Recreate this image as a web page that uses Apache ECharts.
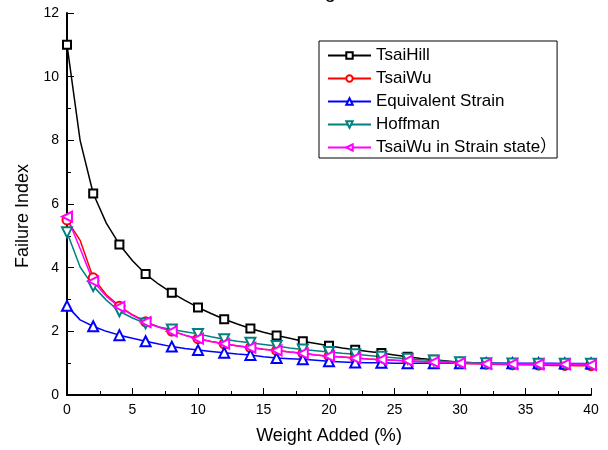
<!DOCTYPE html>
<html>
<head>
<meta charset="utf-8">
<script src="https://cdn.jsdelivr.net/npm/echarts@6/dist/echarts.min.js"></script>
<style>
  html, body { margin: 0; padding: 0; background: #fff; }
  #chart { width: 608px; height: 450px; }
</style>
</head>
<body>
<div id="chart"></div>
<script>
// Weight added (%), one sample per percent
const weightAdded = [0,1,2,3,4,5,6,7,8,9,10,11,12,13,14,15,16,17,18,19,20,
                     21,22,23,24,25,26,27,28,29,30,31,32,33,34,35,36,37,38,39,40];

const tsaiHill = [11.0,8.0,6.33,5.4,4.73,4.22,3.80,3.48,3.21,2.97,2.75,2.56,2.38,2.23,2.09,1.97,1.87,1.78,1.69,1.62,1.55,
                  1.48,1.42,1.37,1.32,1.26,1.20,1.15,1.11,1.07,1.03,1.01,1.00,0.99,0.98,0.98,0.97,0.97,0.96,0.96,0.96];
const tsaiWu = [5.5,4.86,3.68,3.15,2.79,2.52,2.30,2.14,2.01,1.88,1.77,1.68,1.61,1.54,1.49,1.44,1.40,1.35,1.31,1.26,1.22,
                1.19,1.16,1.13,1.11,1.09,1.07,1.05,1.03,1.01,0.99,0.98,0.97,0.96,0.95,0.95,0.94,0.93,0.93,0.92,0.92];
const equivalentStrain = [2.8,2.36,2.16,2.0,1.88,1.78,1.69,1.60,1.52,1.46,1.41,1.37,1.33,1.29,1.26,1.20,1.16,1.14,1.12,1.09,1.06,
                          1.04,1.02,1.01,1.01,1.0,1.0,1.0,1.0,1.0,1.0,1.0,1.0,1.0,1.0,1.0,1.0,1.0,0.99,0.99,0.99];
const hoffman = [5.11,4.02,3.42,2.98,2.63,2.42,2.25,2.14,2.06,1.99,1.92,1.83,1.75,1.69,1.64,1.59,1.54,1.48,1.43,1.39,1.35,
                 1.31,1.28,1.24,1.20,1.17,1.14,1.11,1.08,1.05,1.03,1.01,1.00,0.99,0.99,0.98,0.98,0.98,0.98,0.98,0.98];
const tsaiWuStrain = [5.6,4.6,3.57,3.1,2.77,2.5,2.29,2.13,2.0,1.88,1.77,1.68,1.61,1.55,1.49,1.44,1.40,1.35,1.31,1.26,1.22,
                      1.19,1.16,1.13,1.11,1.09,1.08,1.05,1.03,1.01,1.0,0.99,0.98,0.97,0.97,0.96,0.96,0.96,0.96,0.95,0.94];

const FONT = "'Liberation Sans', Arial, 'Noto Sans CJK SC', sans-serif";

function pairs(ys) {
  return weightAdded.map((x, i) => [x, ys[i]]);
}

// markers only on every second percent
function markerSize(size) {
  return function (val) { return val[0] % 2 === 0 ? size : 0; };
}

function makeSeries(name, ys, color, symbol, size, rotate) {
  return {
    name: name,
    type: 'line',
    data: pairs(ys),
    symbol: symbol,
    symbolSize: markerSize(size),
    symbolRotate: rotate || 0,
    showAllSymbol: true,
    lineStyle: { color: color, width: 1.5 },
    itemStyle: { color: color, borderColor: color, borderWidth: 1.5 },
    emphasis: { disabled: true },
    z: 2
  };
}

const chart = echarts.init(document.getElementById('chart'), null, { renderer: 'canvas' });

chart.setOption({
  animation: false,
  backgroundColor: '#fff',
  title: {
    text: 'Failure Index vs Weight Added',
    left: 144,
    top: -18,
    padding: 0,
    textStyle: { fontFamily: FONT, fontSize: 20, fontWeight: 'normal', color: '#000', lineHeight: 20 }
  },
  grid: { left: 67, right: 17, top: 13, bottom: 54 },
  legend: {
    orient: 'vertical',
    left: 319,
    top: 41,
    padding: [6, 0, 2, 8],
    itemWidth: 43,
    itemHeight: 8,
    itemGap: 6,
    borderColor: '#000',
    borderWidth: 1,
    backgroundColor: '#fff',
    textStyle: { fontFamily: FONT, fontSize: 17, color: '#000', lineHeight: 17 },
    data: ['TsaiHill', 'TsaiWu', 'Equivalent Strain', 'Hoffman', 'TsaiWu in Strain state）']
  },
  xAxis: {
    type: 'value',
    min: 0, max: 40, interval: 5,
    name: 'Weight Added (%)',
    nameLocation: 'middle',
    nameGap: 32,
    nameTextStyle: { fontFamily: FONT, fontSize: 18, color: '#000' },
    axisLine: { show: true, onZero: false, lineStyle: { color: '#000', width: 2 } },
    axisTick: { show: true, inside: true, length: 7, lineStyle: { color: '#000', width: 1 } },
    minorTick: { show: true, splitNumber: 2, length: 4, lineStyle: { color: '#000', width: 1 } },
    axisLabel: { fontFamily: FONT, fontSize: 14, color: '#000', margin: 8 },
    splitLine: { show: false }
  },
  yAxis: {
    type: 'value',
    min: 0, max: 12, interval: 2,
    name: 'Failure Index',
    nameLocation: 'middle',
    nameGap: 32,
    nameRotate: 90,
    nameTextStyle: { fontFamily: FONT, fontSize: 18, color: '#000', padding: [0, 24, 0, 0] },
    axisLine: { show: true, onZero: false, lineStyle: { color: '#000', width: 2 } },
    axisTick: { show: true, inside: true, length: 7, lineStyle: { color: '#000', width: 1 } },
    minorTick: { show: true, splitNumber: 2, length: 4, lineStyle: { color: '#000', width: 1 } },
    axisLabel: { fontFamily: FONT, fontSize: 14, color: '#000', margin: 8 },
    splitLine: { show: false }
  },
  series: [
    makeSeries('TsaiHill', tsaiHill, '#000000', 'emptyRect', 8, 0),
    makeSeries('TsaiWu', tsaiWu, '#ff0000', 'emptyCircle', 9, 0),
    makeSeries('Equivalent Strain', equivalentStrain, '#0000ff', 'emptyTriangle', 10, 0),
    makeSeries('Hoffman', hoffman, '#008080', 'emptyTriangle', 10, 180),
    makeSeries('TsaiWu in Strain state）', tsaiWuStrain, '#ff00ff', 'emptyTriangle', 10, 90)
  ]
});
</script>
</body>
</html>
